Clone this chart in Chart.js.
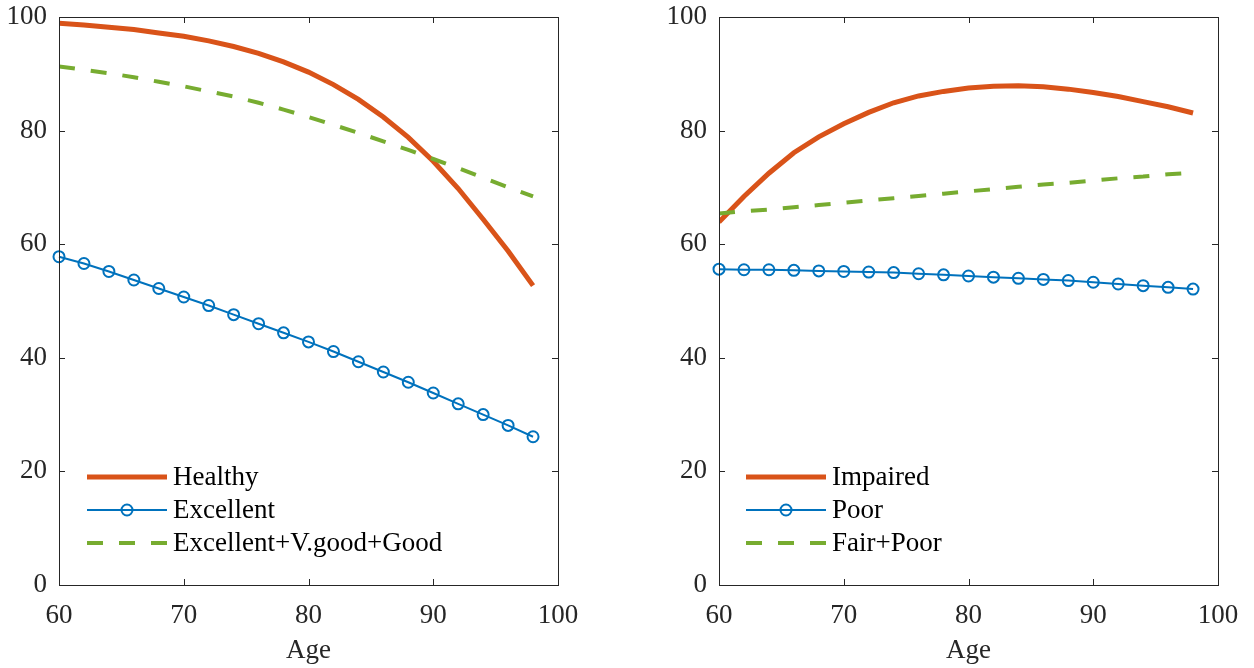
<!DOCTYPE html>
<html>
<head>
<meta charset="utf-8">
<script src="https://cdn.jsdelivr.net/npm/chart.js@4.4.1/dist/chart.umd.min.js"></script>
<style>
  html, body { margin: 0; padding: 0; background: #fff; }
  #wrap { position: relative; width: 1254px; height: 668px; }
  .panel { position: absolute; top: 0; width: 627px; height: 668px; }
</style>
</head>
<body>
<div id="wrap">
  <div class="panel" style="left:0"><canvas id="c1" width="627" height="668"></canvas></div>
  <div class="panel" style="left:627px"><canvas id="c2" width="627" height="668"></canvas></div>
</div>
<script>
// ---- data ----
const ages = [60,62,64,66,68,70,72,74,76,78,80,82,84,86,88,90,92,94,96,98];
const healthy   = [98.9,98.6,98.2,97.8,97.2,96.6,95.8,94.8,93.6,92.1,90.3,88.1,85.5,82.4,78.8,74.6,69.8,64.4,58.8,52.7];
const excellent = [57.8,56.6,55.2,53.7,52.2,50.7,49.2,47.6,46.0,44.4,42.8,41.1,39.3,37.5,35.7,33.8,31.9,30.0,28.1,26.1];
const goodPlus  = [91.3,90.7,90.1,89.4,88.6,87.8,86.9,86.0,84.9,83.7,82.4,81.0,79.6,78.1,76.6,75.0,73.4,71.7,70.0,68.4];
const impaired  = [63.9,68.4,72.5,76.1,78.9,81.2,83.2,84.9,86.1,86.9,87.5,87.8,87.9,87.7,87.3,86.7,86.0,85.1,84.2,83.1];
const poor      = [55.6,55.5,55.5,55.4,55.3,55.2,55.1,55.0,54.8,54.6,54.4,54.2,54.0,53.8,53.6,53.3,53.0,52.7,52.4,52.1];
const fairPoor  = [65.4,65.8,66.1,66.5,66.9,67.3,67.7,68.1,68.5,68.9,69.3,69.7,70.1,70.5,70.8,71.2,71.6,71.9,72.3,72.6];
const xTicks = [60,70,80,90,100];
const yTicks = [0,20,40,60,80,100];
const xTitle = 'Age';
const leftLabels  = ['Healthy','Excellent','Excellent+V.good+Good'];
const rightLabels = ['Impaired','Poor','Fair+Poor'];

const ORANGE = '#D95319', BLUE = '#0072BD', GREEN = '#77AC30', AXIS = '#262626';
const FONT = "'Liberation Serif', 'Times New Roman', serif";
const FS = 27;

function pts(arr) { return ages.map((a, i) => ({ x: a, y: arr[i] })); }

function makeDatasets(labels, a, b, c) {
  return [
    { label: labels[0], data: pts(a), borderColor: ORANGE, borderWidth: 5, pointRadius: 0, tension: 0, order: 3 },
    { label: labels[1], data: pts(b), borderColor: BLUE, borderWidth: 2, pointRadius: 5.5, pointBorderWidth: 2,
      pointBackgroundColor: 'rgba(0,0,0,0)', pointBorderColor: BLUE, pointStyle: 'circle', tension: 0, clip: false, order: 2 },
    { label: labels[2], data: pts(c), borderColor: GREEN, borderWidth: 4, borderDash: [16, 16], pointRadius: 0, tension: 0, order: 1 }
  ];
}

const boxPlugin = {
  id: 'boxPlugin',
  afterDraw(chart) {
    const { ctx, chartArea: ca, scales } = chart;
    ctx.save();
    ctx.strokeStyle = AXIS;
    ctx.lineWidth = 1;
    ctx.strokeRect(Math.round(ca.left) + 0.5, Math.round(ca.top) + 0.5, Math.round(ca.right - ca.left), Math.round(ca.bottom - ca.top));
    const tl = 6;
    ctx.beginPath();
    xTicks.forEach(v => {
      const px = Math.round(scales.x.getPixelForValue(v)) + 0.5;
      ctx.moveTo(px, ca.bottom); ctx.lineTo(px, ca.bottom - tl);
      ctx.moveTo(px, ca.top); ctx.lineTo(px, ca.top + tl);
    });
    yTicks.forEach(v => {
      const py = Math.round(scales.y.getPixelForValue(v)) + 0.5;
      ctx.moveTo(ca.left, py); ctx.lineTo(ca.left + tl, py);
      ctx.moveTo(ca.right, py); ctx.lineTo(ca.right - tl, py);
    });
    ctx.stroke();

    // legend
    const lg = chart.options.plugins.innerLegend;
    const x0 = ca.left + lg.offsetX, len = 80;
    const rows = [108, 75, 42];
    ctx.font = FS + 'px ' + FONT;
    ctx.textBaseline = 'middle';
    ctx.fillStyle = '#000';
    chart.data.datasets.forEach((ds, i) => {
      const y = ca.bottom - rows[i];
      ctx.save();
      ctx.strokeStyle = ds.borderColor;
      ctx.lineWidth = ds.borderWidth;
      ctx.setLineDash(ds.borderDash || []);
      ctx.beginPath(); ctx.moveTo(x0, y); ctx.lineTo(x0 + len, y); ctx.stroke();
      ctx.setLineDash([]);
      if (ds.pointRadius > 0) {
        ctx.lineWidth = ds.pointBorderWidth;
        ctx.beginPath(); ctx.arc(x0 + len / 2, y, ds.pointRadius, 0, Math.PI * 2); ctx.stroke();
      }
      ctx.restore();
      ctx.fillText(ds.label, x0 + len + 6, y + 1);
    });
    ctx.restore();
  }
};

function makeChart(id, datasets, yWidth, padRight, legendOffset) {
  return new Chart(document.getElementById(id), {
    type: 'line',
    data: { datasets },
    plugins: [boxPlugin],
    options: {
      responsive: false,
      animation: false,
      events: [],
      layout: { padding: { top: 17, right: padRight, bottom: 0, left: 0 } },
      plugins: { legend: { display: false }, tooltip: { enabled: false }, innerLegend: { offsetX: legendOffset } },
      scales: {
        x: {
          type: 'linear', min: 60, max: 100,
          afterBuildTicks(s) { s.ticks = xTicks.map(v => ({ value: v })); },
          afterFit(s) { s.height = 83; s.paddingLeft = 0; s.paddingRight = 0; },
          grid: { display: false, drawTicks: false },
          border: { display: false },
          ticks: { color: AXIS, font: { family: FONT, size: FS }, padding: 15, maxRotation: 0 },
          title: { display: true, text: xTitle, color: AXIS, font: { family: FONT, size: FS }, padding: { top: 0, bottom: 1 } }
        },
        y: {
          type: 'linear', min: 0, max: 100,
          afterBuildTicks(s) { s.ticks = yTicks.map(v => ({ value: v })); },
          afterFit(s) { s.width = yWidth; s.paddingTop = 0; s.paddingBottom = 0; },
          grid: { display: false, drawTicks: false },
          border: { display: false },
          ticks: { color: AXIS, font: { family: FONT, size: FS }, padding: 12 }
        }
      }
    }
  });
}

makeChart('c1', makeDatasets(leftLabels, healthy, excellent, goodPlus), 59, 69, 28);
makeChart('c2', makeDatasets(rightLabels, impaired, poor, fairPoor), 92, 36, 27);
</script>
</body>
</html>
